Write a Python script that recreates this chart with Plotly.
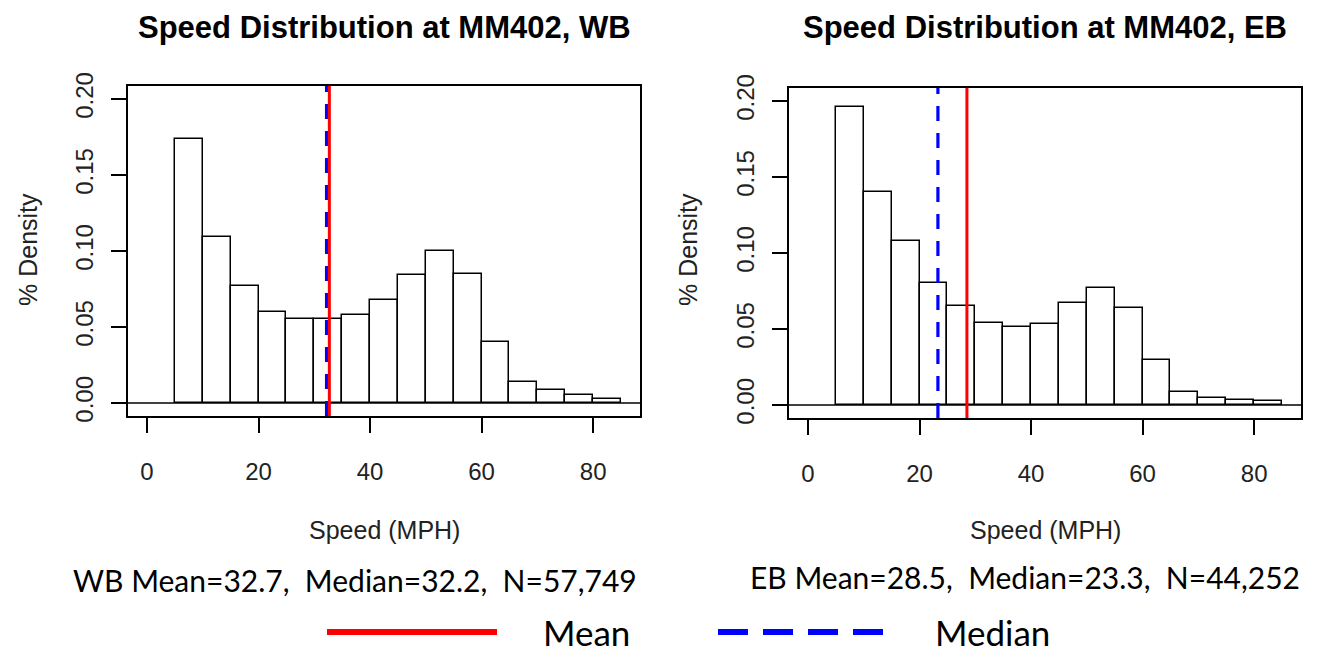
import plotly.graph_objects as go

# histogram bins (MPH) and "% density" per bin
bin_edges = [5, 10, 15, 20, 25, 30, 35, 40, 45, 50, 55, 60, 65, 70, 75, 80, 85]
wb_density = [0.174, 0.109, 0.077, 0.060, 0.055, 0.055, 0.058, 0.068, 0.084,
              0.100, 0.085, 0.040, 0.014, 0.0084, 0.0053, 0.0029]
eb_density = [0.196, 0.140, 0.108, 0.080, 0.065, 0.054, 0.051, 0.053, 0.067,
              0.077, 0.064, 0.0295, 0.0088, 0.0044, 0.0033, 0.0024]

wb_stats = dict(mean=32.7, median=32.2, n="57,749")
eb_stats = dict(mean=28.5, median=23.3, n="44,252")

x_ticks = [0, 20, 40, 60, 80]
y_ticks = [0.0, 0.05, 0.10, 0.15, 0.20]
y_ticktext = ["0.00", "0.05", "0.10", "0.15", "0.20"]

W, H = 1321, 654
OFF = 8  # page body margin
centers = [(a + b) / 2 for a, b in zip(bin_edges[:-1], bin_edges[1:])]
widths = [b - a for a, b in zip(bin_edges[:-1], bin_edges[1:])]

fig = go.Figure()
for i, dens in enumerate([wb_density, eb_density]):
    sfx = "" if i == 0 else "2"
    fig.add_trace(go.Bar(
        x=centers, y=dens, width=widths,
        marker=dict(color="white", line=dict(color="black", width=1.5)),
        xaxis="x" + sfx, yaxis="y" + sfx, showlegend=False, hoverinfo="skip",
    ))

tick_font = dict(family="Liberation Sans, Arial", size=24, color="#222")
axis_common = dict(showgrid=False, zeroline=False, showline=True, mirror=True,
                   linecolor="black", linewidth=1.5, ticks="outside", ticklen=15,
                   tickwidth=1.5, tickcolor="black", tickfont=tick_font)

def px(xp):
    return (xp - OFF) / W

def py(yp):
    return 1 - (yp - OFF) / H

fig.update_layout(
    width=W, height=H,
    margin=dict(l=0, r=0, t=0, b=0, autoexpand=False),
    paper_bgcolor="white", plot_bgcolor="white",
    bargap=0,
    xaxis=dict(domain=[px(128), px(640)], range=[-3.4, 88.4], tickvals=x_ticks,
               anchor="y", ticklabelstandoff=18, **axis_common),
    yaxis=dict(domain=[py(416), py(86)], range=[-0.0086, 0.2086], tickvals=y_ticks,
               ticktext=y_ticktext, tickangle=-90, anchor="x", ticklabelstandoff=9,
               **axis_common),
    xaxis2=dict(domain=[px(789), px(1301)], range=[-3.4, 88.4], tickvals=x_ticks,
                anchor="y2", ticklabelstandoff=18, **axis_common),
    yaxis2=dict(domain=[py(418), py(88)], range=[-0.0086, 0.2086], tickvals=y_ticks,
                ticktext=y_ticktext, tickangle=-90, anchor="x2", ticklabelstandoff=9,
                **axis_common),
)

def label(text, x, y, size, family="Liberation Sans, Arial", angle=0, anchor="center", color="#222"):
    return dict(text=text, xref="paper", yref="paper", x=px(x), y=py(y),
                xanchor=anchor, yanchor="middle", textangle=angle, showarrow=False,
                font=dict(family=family, size=size, color=color))

shapes = []
annotations = []
panels = [("", wb_stats, "WB", 384, 28, 355, 580), ("2", eb_stats, "EB", 1045, 688, 1025, 577)]
for sfx, st, lab, cx, dx, sx, sy in panels:
    xr, yr = "x" + sfx, "y" + sfx
    # zero line across the box
    shapes.append(dict(type="line", xref=xr + " domain", yref=yr, x0=0, x1=1, y0=0, y1=0,
                       line=dict(color="black", width=1.5)))
    shapes.append(dict(type="line", xref=xr, yref=yr + " domain", x0=st["median"], x1=st["median"],
                       y0=0, y1=1, line=dict(color="blue", width=3.2, dash="15px,12px")))
    shapes.append(dict(type="line", xref=xr, yref=yr + " domain", x0=st["mean"], x1=st["mean"],
                       y0=0, y1=1, line=dict(color="red", width=3)))
    annotations.append(label("<b>Speed Distribution at MM402, %s</b>" % lab, cx, 27, 31, color="black"))
    annotations.append(label("Speed (MPH)", cx, 530, 25))
    annotations.append(label("% Density", dx, 250, 25, angle=-90))
    annotations.append(label("%s Mean=%.1f,  Median=%.1f,  N=%s" % (lab, st["mean"], st["median"], st["n"]),
                             sx, sy, 30, family="Lato", color="black"))

# legend at the bottom
shapes.append(dict(type="line", xref="paper", yref="paper", x0=px(327), x1=px(497),
                   y0=py(632), y1=py(632), line=dict(color="red", width=6)))
shapes.append(dict(type="line", xref="paper", yref="paper", x0=px(718), x1=px(885),
                   y0=py(632), y1=py(632), line=dict(color="blue", width=6, dash="30px,15px")))
annotations.append(label("Mean", 541, 632, 35, family="Lato", anchor="left", color="black"))
annotations.append(label("Median", 933, 632, 35, family="Lato", anchor="left", color="black"))

fig.update_layout(shapes=shapes, annotations=annotations)
fig.write_html("out.html")
